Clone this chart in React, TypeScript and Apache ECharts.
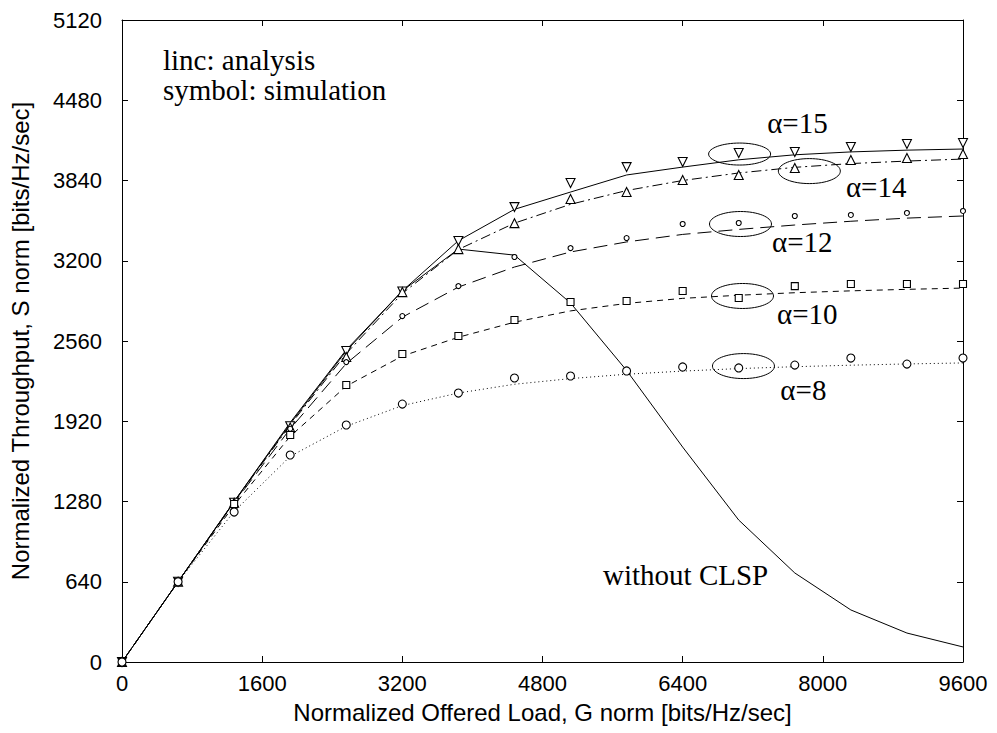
import React, { useEffect, useRef } from "react";
import * as echarts from "echarts";

// Offered load (x) sample points
const loads = [0, 640, 1280, 1920, 2560, 3200, 3840, 4480, 5120, 5760, 6400, 7040, 7680, 8320, 8960, 9600];

// Analysis curves (lines)
const a15Line = [0, 640, 1280, 1900, 2480, 2960, 3360, 3610, 3748, 3884, 3947, 4005, 4045, 4068, 4082, 4091];
const a14Line = [0, 640, 1275, 1890, 2460, 2940, 3290, 3500, 3650, 3760, 3840, 3900, 3945, 3975, 3995, 4011];
const a12Line = [0, 640, 1270, 1860, 2380, 2750, 2990, 3150, 3270, 3350, 3410, 3450, 3485, 3515, 3540, 3557];
const a10Line = [0, 640, 1250, 1800, 2200, 2440, 2590, 2710, 2800, 2860, 2900, 2925, 2945, 2960, 2972, 2982];
const a8Line = [0, 640, 1200, 1640, 1880, 2045, 2145, 2215, 2260, 2295, 2320, 2340, 2355, 2367, 2377, 2385];
const noClspLine = [0, 640, 1280, 1910, 2490, 2960, 3293, 3245, 2863, 2325, 1714, 1132, 710, 415, 231, 120];

// Simulation results (symbols)
const a15Sim = [0, 640, 1270, 1880, 2480, 2955, 3357, 3628, 3820, 3947, 3987, 4059, 4067, 4107, 4131, 4139];
const a14Sim = [0, 640, 1270, 1870, 2432, 2950, 3293, 3500, 3692, 3748, 3844, 3884, 3940, 4003, 4019, 4051];
const a12Sim = [0, 640, 1270, 1860, 2392, 2759, 2998, 3230, 3301, 3381, 3493, 3501, 3557, 3565, 3581, 3597];
const a10Sim = [0, 640, 1260, 1810, 2209, 2456, 2600, 2727, 2871, 2879, 2959, 2903, 2998, 3014, 3014, 3014];
const a8Sim = [0, 640, 1196, 1651, 1890, 2057, 2145, 2265, 2281, 2321, 2353, 2345, 2368, 2424, 2376, 2424];

// Annotations: label text, ellipse center (data coords), label center (data coords)
const annoLabels = ["α=15", "α=14", "α=12", "α=10", "α=8"];
const annoEllipseX = [7050, 7846, 7060, 7083, 7094];
const annoEllipseY = [4051, 3915, 3493, 2919, 2360];
const annoTextX = [7710, 8609, 7766, 7823, 7778];
const annoTextY = [4298, 3788, 3349, 2775, 2169];
const noClspLabelAt = [6434, 694];

const pairs = (ys: number[]) => loads.map((x, i) => [x, ys[i]]);

const BLACK = "#000";
const SERIF = '"Liberation Serif", "Times New Roman", serif';
const SANS = '"Liberation Sans", Arial, sans-serif';

export default function App() {
  const ref = useRef<HTMLDivElement>(null);

  useEffect(() => {
    if (!ref.current) return;
    const chart = echarts.init(ref.current, undefined, { renderer: "svg" });

    const lineSeries = (name: string, ys: number[], type: any) => ({
      name,
      type: "line",
      data: pairs(ys),
      showSymbol: false,
      symbol: "none",
      lineStyle: { color: BLACK, width: 1, type },
      z: 2,
    });
    const simSeries = (name: string, ys: number[], symbol: string, size: number, rotate = 0) => ({
      name,
      type: "scatter",
      data: pairs(ys),
      symbol,
      symbolSize: size,
      symbolRotate: rotate,
      itemStyle: { color: "#fff", borderColor: BLACK, borderWidth: 1.1, opacity: 1 },
      z: 3,
    });

    const axisCommon = {
      axisLine: { show: true, onZero: false, lineStyle: { color: BLACK, width: 1 } },
      axisTick: { show: true, inside: true, length: 6, lineStyle: { color: BLACK } },
      splitLine: { show: false },
    };
    const plain = (v: number) => String(v);

    chart.setOption({
      animation: false,
      backgroundColor: "#fff",
      grid: { left: 120, right: 34, top: 20, bottom: 71, containLabel: false },
      xAxis: [
        {
          type: "value",
          min: 0,
          max: 9600,
          interval: 1600,
          ...axisCommon,
          axisLabel: { color: BLACK, fontSize: 22, fontFamily: SANS, margin: 10, formatter: plain },
          name: "Normalized Offered Load, G norm [bits/Hz/sec]",
          nameLocation: "middle",
          nameGap: 38,
          nameTextStyle: { color: BLACK, fontSize: 24, fontFamily: SANS },
        },
        {
          type: "value",
          position: "top",
          min: 0,
          max: 9600,
          interval: 1600,
          ...axisCommon,
          axisLabel: { show: false },
        },
      ],
      yAxis: [
        {
          type: "value",
          min: 0,
          max: 5120,
          interval: 640,
          ...axisCommon,
          axisLabel: { color: BLACK, fontSize: 22, fontFamily: SANS, margin: 20, formatter: plain },
          name: "Normalized Throughput, S norm [bits/Hz/sec]",
          nameLocation: "middle",
          nameRotate: 90,
          nameGap: 90,
          nameTextStyle: { color: BLACK, fontSize: 24, fontFamily: SANS },
        },
        {
          type: "value",
          position: "right",
          min: 0,
          max: 5120,
          interval: 640,
          ...axisCommon,
          axisLabel: { show: false },
        },
      ],
      series: [
        lineSeries("without CLSP", noClspLine, "solid"),
        lineSeries("α=15 analysis", a15Line, "solid"),
        lineSeries("α=14 analysis", a14Line, [10, 4, 2, 4]),
        lineSeries("α=12 analysis", a12Line, [14, 7]),
        lineSeries("α=10 analysis", a10Line, [6, 5]),
        lineSeries("α=8 analysis", a8Line, [1, 3]),
        simSeries("α=15 simulation", a15Sim, "triangle", 9, 180),
        simSeries("α=14 simulation", a14Sim, "triangle", 9),
        simSeries("α=12 simulation", a12Sim, "circle", 5),
        simSeries("α=10 simulation", a10Sim, "rect", 7),
        simSeries("α=8 simulation", a8Sim, "circle", 8),
      ],
    });

    const FONT = `29px ${SERIF}`;
    const graphics: any[] = [
      {
        type: "text",
        left: 163,
        top: 45,
        style: { text: "linc: analysis", font: FONT, fill: BLACK },
      },
      {
        type: "text",
        left: 163,
        top: 75,
        style: { text: "symbol: simulation", font: FONT, fill: BLACK },
      },
    ];
    const clsp = chart.convertToPixel({ gridIndex: 0 }, noClspLabelAt) as number[];
    graphics.push({
      type: "text",
      x: clsp[0],
      y: clsp[1],
      style: { text: "without CLSP", font: FONT, fill: BLACK, align: "center", verticalAlign: "middle" },
    });
    annoLabels.forEach((label, i) => {
      const c = chart.convertToPixel({ gridIndex: 0 }, [annoEllipseX[i], annoEllipseY[i]]) as number[];
      const t = chart.convertToPixel({ gridIndex: 0 }, [annoTextX[i], annoTextY[i]]) as number[];
      graphics.push({
        type: "ellipse",
        shape: { cx: c[0], cy: c[1], rx: 31, ry: i === 0 ? 11 : 12.5 },
        style: { stroke: BLACK, fill: "none", lineWidth: 1 },
        z: 10,
      });
      graphics.push({
        type: "text",
        x: t[0],
        y: t[1],
        style: { text: label, font: FONT, fill: BLACK, align: "center", verticalAlign: "middle" },
        z: 10,
      });
    });
    chart.setOption({ graphic: graphics });

    return () => chart.dispose();
  }, []);

  return (
    <div
      ref={ref}
      style={{ position: "fixed", left: 0, top: 0, width: 997, height: 733, background: "#fff" }}
    />
  );
}
